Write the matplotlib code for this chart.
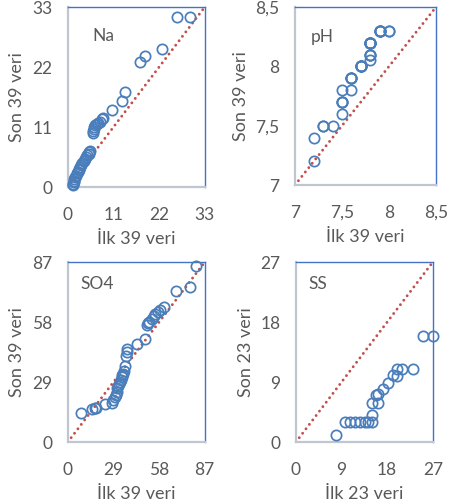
import matplotlib.pyplot as plt

plt.rcParams['font.family'] = ['Lato', 'DejaVu Sans']

# ---------------------------------------------------
# Data (sorted pairs)
# ---------------------------------------------------
na_first = [1.2, 1.3, 1.4, 1.5, 1.6, 1.8, 2.0, 2.2, 2.4, 2.6, 2.8, 3.0, 3.2, 3.5,
            3.8, 4.1, 4.4, 4.7, 5.0, 5.2, 5.3, 6.0, 6.1, 6.2, 6.3, 6.6, 7.0, 7.3,
            7.8, 8.2, 8.5, 10.6, 13.1, 13.7, 17.3, 18.7, 22.7, 26.3, 29.5]
na_last = [0.4, 0.6, 0.9, 1.2, 1.5, 1.8, 2.1, 2.5, 2.8, 3.1, 3.4, 3.7, 4.0, 4.4,
           4.7, 5.2, 5.5, 5.8, 6.1, 6.4, 6.7, 9.9, 10.3, 10.6, 11.1, 11.3, 11.5, 11.7,
           12.0, 12.4, 12.7, 14.2, 15.8, 17.4, 22.9, 24.1, 25.4, 31.2, 31.2]

ph_first = [7.2, 7.2, 7.3, 7.3, 7.4, 7.5, 7.5, 7.5, 7.5, 7.5, 7.6, 7.6, 7.6, 7.6,
            7.6, 7.7, 7.7, 7.7, 7.7, 7.7, 7.7, 7.8, 7.8, 7.8, 7.8, 7.8, 7.8, 7.8,
            7.8, 7.8, 7.8, 7.8, 7.9, 7.9, 7.9, 7.9, 7.9, 8.0, 8.0]
ph_last = [7.2, 7.4, 7.5, 7.5, 7.5, 7.6, 7.7, 7.7, 7.7, 7.8, 7.8, 7.9, 7.9, 7.9,
           7.9, 8.0, 8.0, 8.0, 8.0, 8.0, 8.0, 8.05, 8.1, 8.1, 8.1, 8.2, 8.2, 8.2,
           8.2, 8.2, 8.2, 8.2, 8.3, 8.3, 8.3, 8.3, 8.3, 8.3, 8.3]

so4_first = [8.1, 15.6, 17.1, 18.2, 23.5, 27.8, 28.8, 29.9, 30.5, 31.0, 31.4, 32.0,
             32.7, 33.1, 33.5, 34.2, 34.6, 35.3, 35.7, 36.3, 37.0, 37.4, 37.8, 43.8,
             49.1, 50.2, 51.0, 51.9, 53.4, 54.5, 55.6, 57.1, 58.3, 61.3, 69.0, 77.6,
             81.2]
so4_last = [14.2, 15.8, 16.3, 16.6, 18.2, 18.8, 20.5, 21.7, 23.0, 24.2, 26.2, 27.2,
            28.2, 29.0, 29.8, 31.4, 32.2, 33.0, 34.6, 36.6, 41.4, 43.5, 45.1, 47.2,
            49.6, 56.8, 57.4, 58.0, 59.6, 61.0, 62.0, 62.8, 63.6, 65.5, 72.9, 74.9,
            84.9]

ss_first = [7.9, 9.7, 10.7, 11.7, 12.7, 13.7, 14.3, 15.1, 15.0, 15.0, 16.2, 15.8,
            16.2, 17.1, 18.1, 19.1, 19.9, 19.9, 20.9, 23.0, 25.0, 27.0]
ss_last = [1.0, 3.0, 3.0, 3.0, 3.0, 3.0, 3.0, 3.0, 4.1, 5.9, 5.9, 7.0,
           7.15, 8.0, 8.9, 10.0, 9.85, 11.0, 11.0, 11.0, 15.9, 15.9]

panels = [
    ('Na', na_first, na_last, (0, 33), [0, 11, 22, 33], ['0', '11', '22', '33'],
     'İlk 39 veri', 'Son 39 veri', [0.148, 0.628, 0.299, 0.358], (0.18, 0.84)),
    ('pH', ph_first, ph_last, (7, 8.5), [7, 7.5, 8, 8.5], ['7', '7,5', '8', '8,5'],
     'İlk 39 veri', 'Son 39 veri', [0.644, 0.632, 0.308, 0.354], (0.11, 0.83)),
    ('SO4', so4_first, so4_last, (0, 87), [0, 29, 58, 87], ['0', '29', '58', '87'],
     'İlk 39 veri', 'Son 39 veri', [0.148, 0.121, 0.299, 0.358], (0.09, 0.88)),
    ('SS', ss_first, ss_last, (0, 27), [0, 9, 18, 27], ['0', '9', '18', '27'],
     'İlk 23 veri', 'Son 23 veri', [0.646, 0.121, 0.299, 0.358], (0.095, 0.88)),
]

fig = plt.figure(figsize=(4.58, 5.03), dpi=100)
gray = '#595959'
blue = '#4a7ebb'

for name, xs, ys, lim, ticks, tlabels, xl, yl, pos, tpos in panels:
    ax = fig.add_axes(pos)
    # 1:1 line, round dots
    ax.plot(lim, lim, linestyle=(0, (0.01, 1.9)), color='#c0504d', linewidth=2.1,
            dash_capstyle='round', zorder=2)
    ax.plot(xs, ys, 'o', markerfacecolor='none', markeredgecolor=blue,
            markersize=7.4, markeredgewidth=1.25, clip_on=False, zorder=3)
    ax.set_xlim(lim)
    ax.set_ylim(lim)
    ax.set_xticks(ticks)
    ax.set_yticks(ticks)
    ax.set_xticklabels(tlabels)
    ax.set_yticklabels(tlabels)
    ax.tick_params(axis='x', length=0, labelsize=12.5, labelcolor=gray, pad=14)
    ax.tick_params(axis='y', length=0, labelsize=12.5, labelcolor=gray, pad=11)
    ax.set_xlabel(xl, fontsize=13, color=gray, labelpad=6)
    ax.set_ylabel(yl, fontsize=13, color=gray, labelpad=5)
    for s in ['top', 'right']:
        ax.spines[s].set_color('#4472c4')
        ax.spines[s].set_linewidth(1.0)
    for s in ['left', 'bottom']:
        ax.spines[s].set_color('#bfc6d0')
        ax.spines[s].set_linewidth(1.6)
    ax.text(tpos[0], tpos[1], name, transform=ax.transAxes, fontsize=12.5,
            color=gray, ha='left', va='center')

fig.savefig('out.png', dpi=100)
